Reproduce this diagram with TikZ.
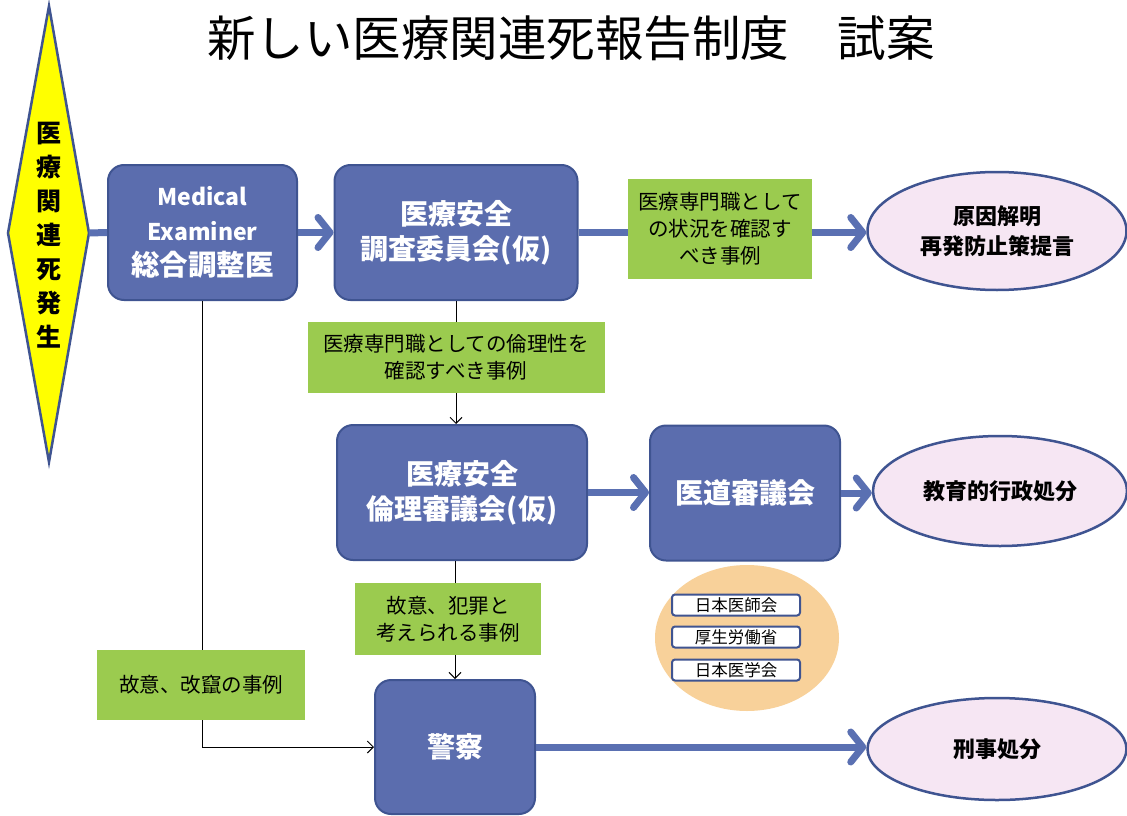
\documentclass[tikz,border=0pt]{standalone}
\usepackage{fontspec}
\setmainfont{Noto Sans CJK JP}
\usetikzlibrary{arrows.meta,shapes.geometric}
\definecolor{boxblue}{HTML}{5B6DAE}
\definecolor{boxborder}{HTML}{3F5491}
\definecolor{arrblue}{HTML}{5A70B2}
\definecolor{leaf}{HTML}{9BCB4F}
\definecolor{pinkfill}{HTML}{F6E6F3}
\definecolor{orangefill}{HTML}{F8D19A}
\definecolor{diayellow}{HTML}{FFFF00}
\begin{document}
\begin{tikzpicture}[x=1pt,y=-1pt,
 bluebox/.style={draw=boxborder, line width=2pt, fill=boxblue, rounded corners=16pt, text=white, font=\bfseries\fontsize{28}{35}\selectfont, align=center, inner sep=0pt},
 greenbox/.style={fill=leaf, font=\fontsize{20.5}{27}\selectfont, align=center, inner sep=0pt},
 result/.style={ellipse, draw=boxborder, line width=2.5pt, fill=pinkfill, font=\bfseries\fontsize{22}{30}\selectfont, align=center, inner sep=0pt},
 org/.style={draw=boxborder, line width=2pt, fill=white, rounded corners=3pt, minimum width=128pt, minimum height=21pt, font=\fontsize{16.5}{16.5}\selectfont, inner sep=0pt},
 thickarrow/.style={draw=arrblue, line width=7pt, -{Straight Barb[length=12pt,width=30pt,round]}},
 thickline/.style={draw=arrblue, line width=7pt},
 thinline/.style={draw=black, line width=1pt},
 thinarrow/.style={thinline, -{Straight Barb[length=6pt,width=12pt]}}
]
\useasboundingbox[fill=white] (0,0) rectangle (1127,816);

% title
\node (title) at (571,38) {\fontsize{48.5}{48.5}\selectfont 新しい医療関連死報告制度　試案};

% diamond
\draw[fill=diayellow, draw=boxborder, line width=2.5pt] (49,6) -- (89,233) -- (49,462) -- (8,233) -- cycle;
\coordinate (diaR) at (89,233);
\node (dia) at (49,235) [align=center, font=\bfseries\fontsize{25}{34}\selectfont, inner sep=0pt] {医\\療\\関\\連\\死\\発\\生};

% boxes
\node[bluebox, minimum width=189pt, minimum height=135pt] (me) at (202.5,232.5) {\fontsize{23}{35}\selectfont Medical\\\fontsize{23}{35}\selectfont Examiner\\\fontsize{28.5}{35}\selectfont 総合調整医};
\node[bluebox, minimum width=243pt, minimum height=135pt] (anzen) at (456,232.5) {医療安全\\調査委員会(仮)};
\node[greenbox, minimum width=184pt, minimum height=100pt] (g1) at (720,229) {医療専門職として\\の状況を確認す\\べき事例};
\node[result, minimum width=259pt, minimum height=118pt] (res1) at (997,231) {原因解明\\再発防止策提言};

\node[greenbox, minimum width=297pt, minimum height=71pt] (g2) at (456,357.5) {医療専門職としての倫理性を\\確認すべき事例};

\node[bluebox, minimum width=250pt, minimum height=135pt] (rinri) at (462,492.5) {医療安全\\倫理審議会(仮)};
\node[bluebox, minimum width=190pt, minimum height=135pt] (idou) at (745,493) {医道審議会};
\node[result, minimum width=254pt, minimum height=110pt] (res2) at (1000,491) {教育的行政処分};

\node[ellipse, fill=orangefill, minimum width=184pt, minimum height=146pt, inner sep=0pt] (orange) at (747,638) {};
\node[org] (o1) at (736,605) {日本医師会};
\node[org] (o2) at (736,637) {厚生労働省};
\node[org] (o3) at (736,670) {日本医学会};

\node[greenbox, minimum width=186pt, minimum height=72pt] (g3) at (448,619) {故意、犯罪と\\考えられる事例};
\node[bluebox, minimum width=160pt, minimum height=134pt] (police) at (455,747) {警察};
\node[result, minimum width=259pt, minimum height=102pt] (res3) at (997,749) {刑事処分};

% thin line from ME to police (behind green box)
\draw[thinarrow] (me.south) -- (me.south |- police.west) -- (police.west);
\node[greenbox, minimum width=208pt, minimum height=70pt] (g4) at (201,685) {故意、改竄の事例};

% thick connectors
\draw[thickline] (diaR) -- (me.west);
\draw[thickarrow] (me.east) -- (anzen.west);
\draw[thickline] (anzen.east) -- (anzen.east -| g1.west);
\draw[thickarrow] (g1.east |- anzen.east) -- (res1.west |- anzen.east);
\draw[thickarrow] (rinri.east) -- (rinri.east -| idou.west);
\draw[thickarrow] (idou.east) -- (idou.east -| res2.west);
\draw[thickarrow] (police.east) -- (police.east -| res3.west);

% thin connectors
\draw[thinline] (anzen.south) -- (anzen.south |- g2.north);
\draw[thinarrow] (g2.south) -- (g2.south |- rinri.north);
\draw[thinline] (rinri.south -| police.north) -- (g3.north -| police.north);
\draw[thinarrow] (g3.south -| police.north) -- (police.north);
\end{tikzpicture}
\end{document}
